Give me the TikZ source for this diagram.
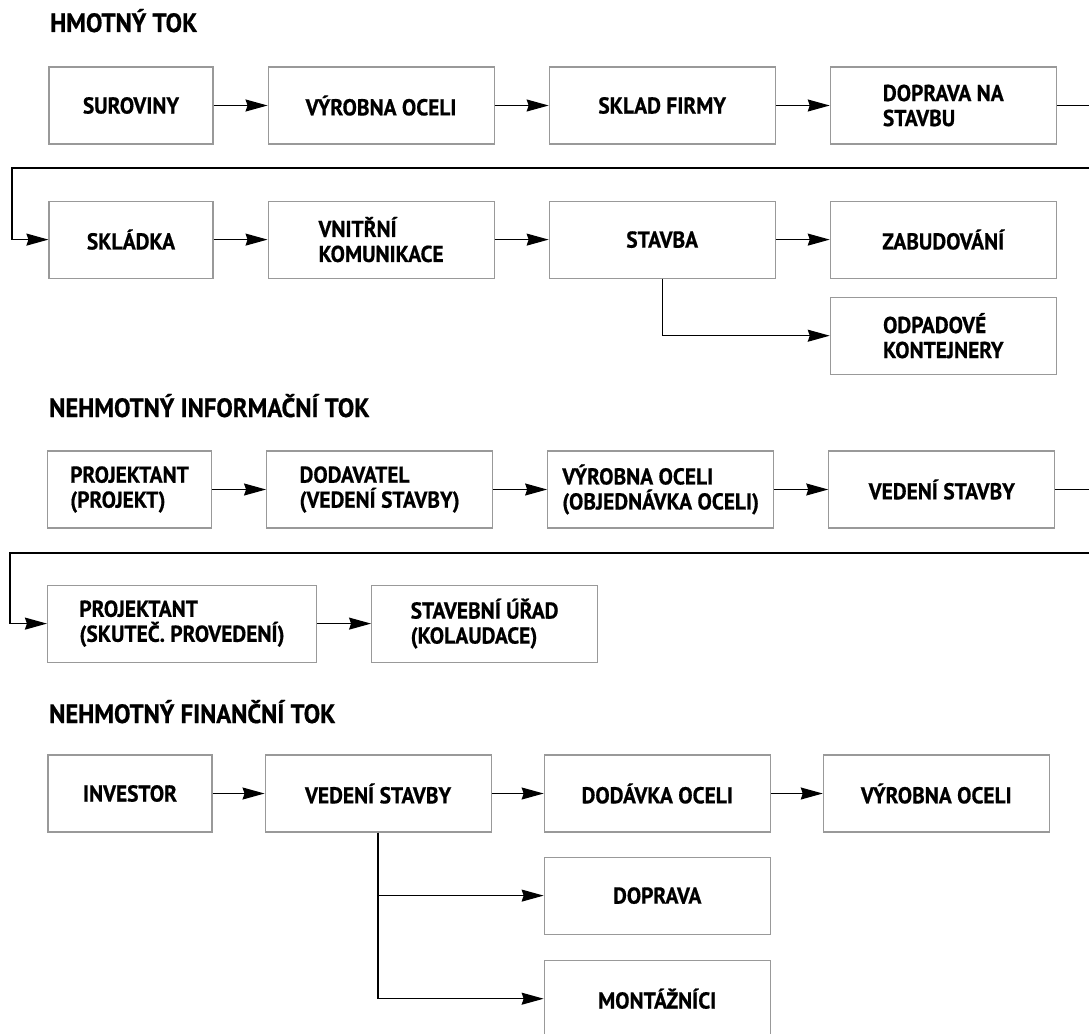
\documentclass[tikz,border=0pt]{standalone}
\usepackage{fontspec}
\setmainfont{PT Sans}[FakeStretch=0.93, BoldFeatures={FakeBold=0.6}]
\usetikzlibrary{positioning,arrows.meta}
\newcommand{\flowfont}{\bfseries\fontsize{23}{25}\selectfont}
\newcommand{\headfont}{\bfseries\fontsize{26.5}{28}\selectfont}

\begin{document}
\begin{tikzpicture}[x=1pt,y=-1pt,node distance=56pt and 54pt] % pixel units
            \tikzstyle{flow} = [rectangle, minimum width=226pt, minimum height=77pt, inner sep=0pt, align=left, draw=black!40, line width=1.1pt, font=\flowfont]
            \tikzstyle{narrow} = [flow, minimum width=164pt]
            \tikzstyle{heading} = [anchor=base west, inner sep=0pt, font=\headfont]
            \tikzstyle{arrow} = [line width=1.3pt, -{Stealth[length=22pt,width=12pt,inset=2pt]}]
            \tikzstyle{wrap} = [arrow, line width=1.6pt]

            \useasboundingbox (0,0) rectangle (1089,1033);

            % Hmotny tok
            \node (hhmot) [heading] at (50,32) {HMOTNÝ TOK};
            \node (surov) [narrow] at (131,105.5) {SUROVINY};
            \node (vyroba) [flow, right=of surov] {VÝROBNA OCELI};
            \node (sklad) [flow, right=of vyroba] {SKLAD FIRMY};
            \node (dopr) [flow, right=of sklad] {DOPRAVA NA\\STAVBU};
            \node (skladka) [narrow, below=of surov] {SKLÁDKA};
            \node (vnitr) [flow, right=of skladka] {VNITŘNÍ\\KOMUNIKACE};
            \node (stavba) [flow, right=of vnitr] {STAVBA};
            \node (zabud) [flow, right=of stavba] {ZABUDOVÁNÍ};
            \node (odpad) [flow, below=18pt of zabud] {ODPADOVÉ\\KONTEJNERY};
            \coordinate (wrap1r) at (1100,168);
            \coordinate (wrap1l) at (12,168);

            % Nehmotny informacni tok
            \node (hinfo) [heading] at (49,417) {NEHMOTNÝ INFORMAČNÍ TOK};
            \node (proj1) [narrow] at (129.5,489.5) {PROJEKTANT\\(PROJEKT)};
            \node (dodav) [flow, right=of proj1] {DODAVATEL\\(VEDENÍ STAVBY)};
            \node (objed) [flow, right=of dodav] {VÝROBNA OCELI\\(OBJEDNÁVKA OCELI)};
            \node (vedinf) [flow, right=of objed] {VEDENÍ STAVBY};
            \node (proj2) [flow, minimum width=269pt, below=of proj1.south west, anchor=north west] {PROJEKTANT\\(SKUTEČ. PROVEDENÍ)};
            \node (urad) [flow, right=of proj2] {STAVEBNÍ ÚŘAD\\(KOLAUDACE)};
            \coordinate (wrap2r) at (1100,553);
            \coordinate (wrap2l) at (10,553);

            % Nehmotny financni tok
            \node (hfin) [heading] at (49,723) {NEHMOTNÝ FINANČNÍ TOK};
            \node (invest) [narrow] at (130,793.5) {INVESTOR};
            \node (vedfin) [flow, right=52pt of invest] {VEDENÍ STAVBY};
            \node (dodavka) [flow, right=52pt of vedfin] {DODÁVKA OCELI};
            \node (vyrfin) [flow, right=52pt of dodavka] {VÝROBNA OCELI};
            \node (doprava) [flow, below=24pt of dodavka] {DOPRAVA};
            \node (montaz) [flow, below=25pt of doprava] {MONTÁŽNÍCI};

            % Arrows
            \draw [arrow] (surov) -- (vyroba);
            \draw [arrow] (vyroba) -- (sklad);
            \draw [arrow] (sklad) -- (dopr);
            \draw [wrap] (dopr.east) -| (wrap1r) -- (wrap1l) |- (skladka.west);
            \draw [arrow] (skladka) -- (vnitr);
            \draw [arrow] (vnitr) -- (stavba);
            \draw [arrow] (stavba) -- (zabud);
            \draw [arrow] (stavba.south) |- (odpad.west);

            \draw [arrow] (proj1) -- (dodav);
            \draw [arrow] (dodav) -- (objed);
            \draw [arrow] (objed) -- (vedinf);
            \draw [wrap] (vedinf.east) -| (wrap2r) -- (wrap2l) |- (proj2.west);
            \draw [arrow] (proj2) -- (urad);

            \draw [arrow] (invest) -- (vedfin);
            \draw [arrow] (vedfin) -- (dodavka);
            \draw [arrow] (dodavka) -- (vyrfin);
            \draw [arrow] (vedfin.south) |- (doprava.west);
            \draw [arrow] (vedfin.south) |- (montaz.west);
\end{tikzpicture}
\end{document}
